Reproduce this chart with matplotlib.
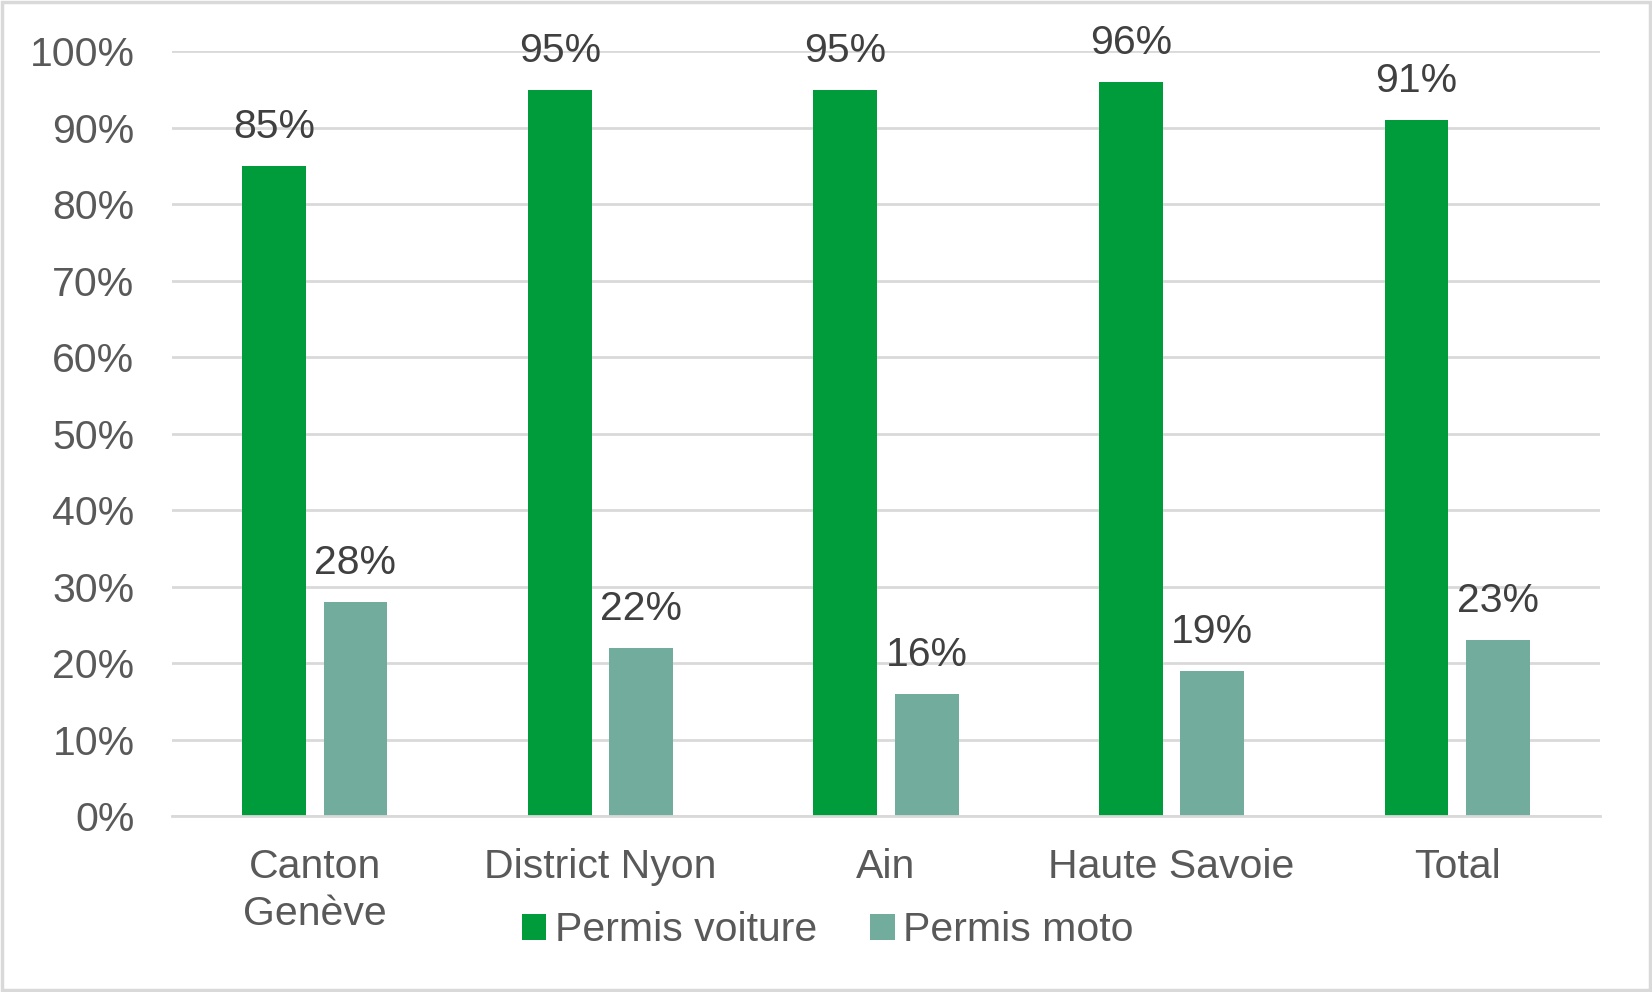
import matplotlib
matplotlib.use("Agg")
import matplotlib.pyplot as plt
from matplotlib.patches import Rectangle
import numpy as np

categories = ["Canton\nGenève", "District Nyon", "Ain", "Haute Savoie", "Total"]
voiture = [85, 95, 95, 96, 91]
moto = [28, 22, 16, 19, 23]
series_names = ["Permis voiture", "Permis moto"]
ytick_vals = [0, 10, 20, 30, 40, 50, 60, 70, 80, 90, 100]
ytick_labels = [f"{v}%" for v in ytick_vals]

GREEN = "#009B3A"
TEAL = "#72AC9C"
TEXT = "#595959"
GRID = "#D9D9D9"

plt.rcParams["font.family"] = ["Liberation Sans", "DejaVu Sans"]
FS = 29.5

fig = plt.figure(figsize=(16.52, 9.92), dpi=100)
ax = fig.add_axes([172/1652, 1-816/992, (1600-172)/1652, (816-51.3)/992])

x = np.arange(len(categories))
w = 0.224
off = 0.1425
b1 = ax.bar(x - off, voiture, w, color=GREEN, label=series_names[0], zorder=3)
b2 = ax.bar(x + off, moto, w, color=TEAL, label=series_names[1], zorder=3)

for bars, vals in ((b1, voiture), (b2, moto)):
    for r, v in zip(bars, vals):
        ax.annotate(f"{v}%", (r.get_x() + r.get_width()/2, r.get_height()),
                    xytext=(0, 20), textcoords="offset points",
                    ha="center", va="baseline", fontsize=FS, color="#404040",
                    clip_on=False, annotation_clip=False)

ax.set_xlim(-0.5, len(categories) - 0.5)
ax.set_ylim(0, 100)
ax.set_yticks(ytick_vals)
ax.set_yticklabels(ytick_labels)
ax.set_xticks(x)
ax.set_xticklabels(categories, linespacing=1.3)
ax.tick_params(axis="y", length=0, pad=27, labelsize=FS, labelcolor=TEXT)
ax.tick_params(axis="x", length=0, pad=23, labelsize=FS, labelcolor=TEXT)
ax.grid(axis="y", color=GRID, linewidth=2, zorder=0)
for s in ["top", "right", "left"]:
    ax.spines[s].set_visible(False)
ax.spines["bottom"].set_color(GRID)
ax.spines["bottom"].set_linewidth(2)
ax.spines["bottom"].set_zorder(4)

leg = fig.legend(handles=[b1, b2], labels=series_names, loc="center",
                 bbox_to_anchor=(0.501, 1-930/992), ncol=2, frameon=False,
                 fontsize=FS, handlelength=0.6, handleheight=0.6,
                 handletextpad=0.2, columnspacing=1.3, labelcolor=TEXT)

fig.patches.append(Rectangle((0.0015, 0.002), 0.997, 0.996, transform=fig.transFigure,
                             fill=False, edgecolor=GRID, linewidth=2.5))

fig.savefig("out.png", dpi=100)
